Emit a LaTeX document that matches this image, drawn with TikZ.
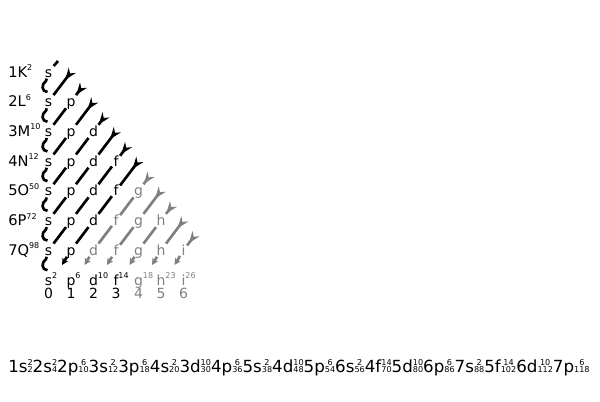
\documentclass[tikz,border=0pt]{standalone}
\usepackage{fontspec}
\setmainfont{DejaVu Sans}
\usepackage{graphicx}
\usetikzlibrary{arrows.meta,calc}
\definecolor{gr}{RGB}{128,128,128}
\newcommand\sps[1]{\raisebox{0.8ex}{\fontsize{6}{6}\selectfont #1}}
\newcommand\ob[3]{#1{\fontsize{6.3}{6.3}\selectfont\setbox0\hbox{#3}\setbox2\hbox{#2}\rlap{\raisebox{5.3pt}{\hbox to\wd0{\hss\box2\hss}}}\box0}}
\begin{document}
\begin{tikzpicture}[x=0.75pt,y=-0.75pt,
  orb/.style={anchor=base,inner sep=1pt,text height=7.5pt,text depth=0pt,font=\fontsize{10.5}{11}\selectfont},
  lab/.style={anchor=base west,inner sep=0pt,font=\fontsize{11}{12}\selectfont},
  blab/.style={anchor=base,inner sep=0pt,font=\fontsize{10.5}{12}\selectfont},
  diag/.style={line width=2pt},
  endtip/.style={-{Stealth[length=5pt,width=5pt,inset=1.5pt]}},
  fletch/.pic={\fill (-3.62,4.78) -- (7.21,-2.06) -- (1.21,-1.59) -- (0.03,-7.5) -- cycle;},
]
\useasboundingbox (0,0) rectangle (600,401);
% orbitals
\foreach \n in {1,...,7}{
  \pgfmathtruncatemacro\lmax{\n-1}
  \foreach \l in {0,...,\lmax}{
    \pgfmathtruncatemacro\k{\n+\l}
    \ifnum\k>8 \colorlet{cc}{gr}\else\colorlet{cc}{black}\fi
    \node[orb,text=cc] (o\n\l) at ({48.5+22.5*\l},{77+29.7*(\n-1)}) {\ifcase\l\relax s\or p\or d\or f\or g\or h\or i\fi};
  }
}
% left labels
\node[lab] (L1) at (8,77) {1K\sps{2}};
\node[lab] (L2) at (8,106.7) {2L\sps{6}};
\node[lab] (L3) at (8,136.4) {3M\sps{10}};
\node[lab] (L4) at (8,166.1) {4N\sps{12}};
\node[lab] (L5) at (8,195.8) {5O\sps{50}};
\node[lab] (L6) at (8,225.5) {6P\sps{72}};
\node[lab] (L7) at (8,255.2) {7Q\sps{98}};
% bottom labels
\node[blab] (b0) at (48.5,285) {s\rlap{\sps{2}}};
\node[blab] (b1) at (71,285) {p\rlap{\sps{6}}};
\node[blab] (b2) at (93.5,285) {d\rlap{\sps{10}}};
\node[blab] (b3) at (116,285) {f\rlap{\sps{14}}};
\node[blab,text=gr] (b4) at (138.5,285) {g\rlap{\sps{18}}};
\node[blab,text=gr] (b5) at (161,285) {h\rlap{\sps{23}}};
\node[blab,text=gr] (b6) at (183.5,285) {i\rlap{\sps{26}}};
\foreach \l in {0,...,6}{
  \ifnum\l>3 \colorlet{cc}{gr}\else\colorlet{cc}{black}\fi
  \node[blab,text=cc] (d\l) at ({48.5+22.5*\l},298) {\l};
}
% coordinates
\coordinate (t1) at (58,61);
\foreach \k in {2,...,13}{
  \pgfmathsetmacro\tt{0.5*\k-0.9}
  \coordinate (f\k) at ({48.5+22.5*(\k-1)-22.5*\tt},{72+29.7*\tt});
}
\foreach \n in {1,...,7}{
  \coordinate (ha\n) at (46,{72+29.7*(\n-1)+9});
  \coordinate (hb\n) at (47.5,{72+29.7*(\n-1)+20});
}
\foreach \l in {1,...,6}{
  \coordinate (e\l) at ({48.5+22.5*\l-9},265);
}
% fletchings
\foreach \k in {2,...,8}{ \pic at (f\k) {fletch}; }
\foreach \k in {9,...,13}{ \pic[gr] at (f\k) {fletch}; }
% diagonals
\tikzset{hk/.style={}}
\draw[diag] (t1) -- (o10) -- (ha1) .. controls +(-5,3) and +(-6,0) .. (hb1);
\draw[diag] (f2) -- (o20) -- (ha2) .. controls +(-5,3) and +(-6,0) .. (hb2);
\draw[diag] (f3) -- (o21) -- (o30) -- (ha3) .. controls +(-5,3) and +(-6,0) .. (hb3);
\draw[diag] (f4) -- (o31) -- (o40) -- (ha4) .. controls +(-5,3) and +(-6,0) .. (hb4);
\draw[diag] (f5) -- (o32) -- (o41) -- (o50) -- (ha5) .. controls +(-5,3) and +(-6,0) .. (hb5);
\draw[diag] (f6) -- (o42) -- (o51) -- (o60) -- (ha6) .. controls +(-5,3) and +(-6,0) .. (hb6);
\draw[diag] (f7) -- (o43) -- (o52) -- (o61) -- (o70) -- (ha7) .. controls +(-5,3) and +(-6,0) .. (hb7);
\draw[diag,endtip] (f8) -- (o53) -- (o62) -- (o71) -- (e1);
\draw[diag,endtip,gr] (f9) -- (o54) -- (o63) -- (o72) -- (e2);
\draw[diag,endtip,gr] (f10) -- (o64) -- (o73) -- (e3);
\draw[diag,endtip,gr] (f11) -- (o65) -- (o74) -- (e4);
\draw[diag,endtip,gr] (f12) -- (o75) -- (e5);
\draw[diag,endtip,gr] (f13) -- (o76) -- (e6);
% formula
\node[anchor=base west,inner sep=0pt] (form) at (8,372) {\resizebox{436pt}{!}{\fontsize{13}{15}\selectfont\ob{1s}{2}{2}\ob{2s}{2}{4}\ob{2p}{6}{10}\ob{3s}{2}{12}\ob{3p}{6}{18}\ob{4s}{2}{20}\ob{3d}{10}{30}\ob{4p}{6}{36}\ob{5s}{2}{38}\ob{4d}{10}{48}\ob{5p}{6}{54}\ob{6s}{2}{56}\ob{4f}{14}{70}\ob{5d}{10}{80}\ob{6p}{6}{86}\ob{7s}{2}{88}\ob{5f}{14}{102}\ob{6d}{10}{112}\ob{7p}{6}{118}}};
\end{tikzpicture}
\end{document}
